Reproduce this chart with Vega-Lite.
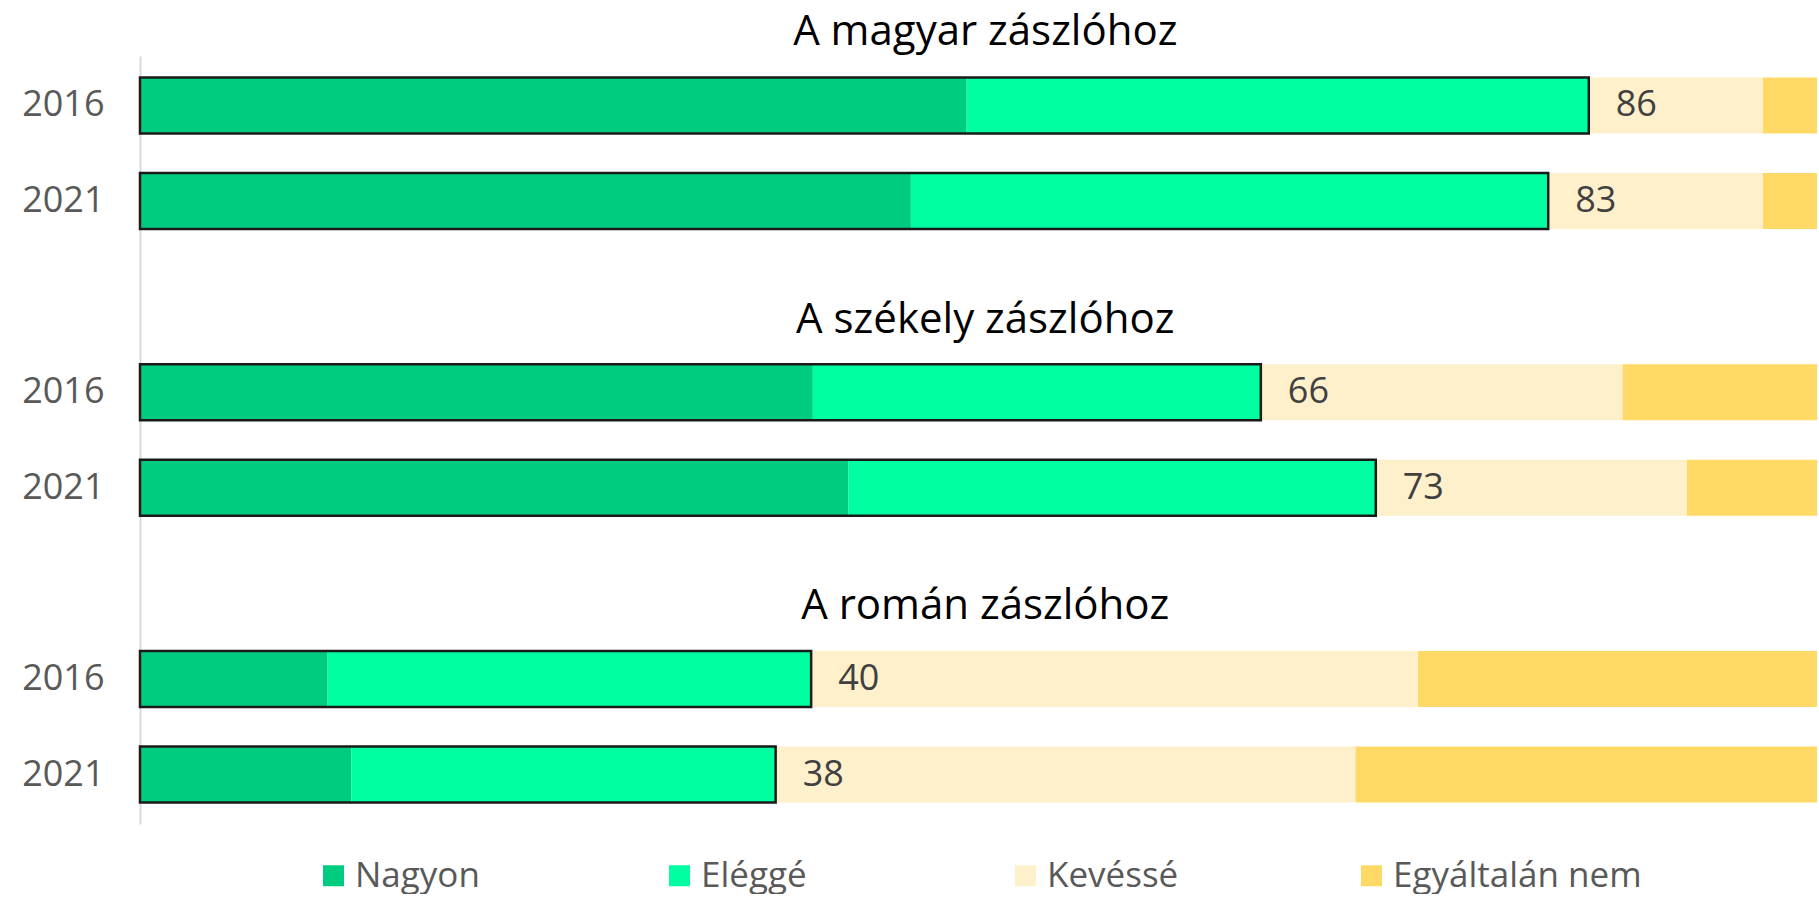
{
  "$schema": "https://vega.github.io/schema/vega-lite/v6.json",
  "width": 1677,
  "height": 768,
  "padding": {"left": 21, "right": 0, "top": 11, "bottom": 0},
  "autosize": {"type": "pad"},
  "background": "white",
  "config": {
    "view": {"stroke": null},
    "font": "Open Sans",
    "legend": {"layout": {"bottom": {"anchor": "middle"}}}
  },
  "data": {
    "values": [
      {"key": "magyar 2016", "cat": "Nagyon", "rank": 1, "value": 48.9},
      {"key": "magyar 2016", "cat": "Eléggé", "rank": 2, "value": 36.8},
      {"key": "magyar 2016", "cat": "Kevéssé", "rank": 3, "value": 10.3},
      {"key": "magyar 2016", "cat": "Egyáltalán nem", "rank": 4, "value": 4.0},
      {"key": "magyar 2021", "cat": "Nagyon", "rank": 1, "value": 45.6},
      {"key": "magyar 2021", "cat": "Eléggé", "rank": 2, "value": 37.7},
      {"key": "magyar 2021", "cat": "Kevéssé", "rank": 3, "value": 12.7},
      {"key": "magyar 2021", "cat": "Egyáltalán nem", "rank": 4, "value": 4.0},
      {"key": "székely 2016", "cat": "Nagyon", "rank": 1, "value": 39.8},
      {"key": "székely 2016", "cat": "Eléggé", "rank": 2, "value": 26.5},
      {"key": "székely 2016", "cat": "Kevéssé", "rank": 3, "value": 21.4},
      {"key": "székely 2016", "cat": "Egyáltalán nem", "rank": 4, "value": 12.3},
      {"key": "székely 2021", "cat": "Nagyon", "rank": 1, "value": 41.9},
      {"key": "székely 2021", "cat": "Eléggé", "rank": 2, "value": 31.2},
      {"key": "székely 2021", "cat": "Kevéssé", "rank": 3, "value": 18.4},
      {"key": "székely 2021", "cat": "Egyáltalán nem", "rank": 4, "value": 8.5},
      {"key": "román 2016", "cat": "Nagyon", "rank": 1, "value": 11.1},
      {"key": "román 2016", "cat": "Eléggé", "rank": 2, "value": 28.6},
      {"key": "román 2016", "cat": "Kevéssé", "rank": 3, "value": 35.9},
      {"key": "román 2016", "cat": "Egyáltalán nem", "rank": 4, "value": 24.4},
      {"key": "román 2021", "cat": "Nagyon", "rank": 1, "value": 12.5},
      {"key": "román 2021", "cat": "Eléggé", "rank": 2, "value": 25.1},
      {"key": "román 2021", "cat": "Kevéssé", "rank": 3, "value": 34.3},
      {"key": "román 2021", "cat": "Egyáltalán nem", "rank": 4, "value": 28.1}
    ]
  },
  "encoding": {
    "y": {
      "field": "key",
      "type": "nominal",
      "scale": {
        "domain": ["magyar 2016", "magyar 2021", "gap2", "székely 2016", "székely 2021", "gap3", "román 2016", "román 2021"],
        "paddingInner": 0.414,
        "paddingOuter": 0.224
      },
      "axis": {
        "title": null,
        "ticks": false,
        "domain": true,
        "domainColor": "#D9D9D9",
        "domainWidth": 2,
        "labelExpr": "length(datum.value) > 5 ? slice(datum.value, -4) : ''",
        "labelFont": "Open Sans",
        "labelFontSize": 36,
        "labelColor": "#595959",
        "labelPadding": 36,
        "grid": false
      }
    }
  },
  "layer": [
    {
      "mark": {"type": "bar", "clip": true},
      "encoding": {
        "x": {
          "field": "value",
          "type": "quantitative",
          "stack": "zero",
          "scale": {"domain": [0, 99.2], "nice": false, "zero": true},
          "axis": null
        },
        "color": {
          "field": "cat",
          "type": "nominal",
          "scale": {
            "domain": ["Nagyon", "Eléggé", "Kevéssé", "Egyáltalán nem"],
            "range": ["#00CC80", "#00FFA0", "#FFF0CC", "#FFD966"]
          },
          "legend": {
            "orient": "bottom",
            "direction": "horizontal",
            "columns": 4,
            "gridAlign": "all",
            "columnPadding": 58,
            "title": null,
            "symbolType": "square",
            "symbolSize": 441,
            "symbolStrokeWidth": 0,
            "symbolOpacity": 1,
            "labelFont": "Open Sans",
            "labelFontSize": 35,
            "labelColor": "#595959",
            "labelOffset": 4,
            "labelLimit": 500,
            "offset": 34
          }
        },
        "order": {"field": "rank", "type": "quantitative"}
      }
    },
    {
      "transform": [
        {"filter": {"field": "cat", "oneOf": ["Nagyon", "Eléggé"]}},
        {"aggregate": [{"op": "sum", "field": "value", "as": "green"}], "groupby": ["key"]}
      ],
      "mark": {"type": "bar", "fill": "transparent", "stroke": "#1a1a1a", "strokeWidth": 2.5},
      "encoding": {
        "x": {
          "field": "green",
          "type": "quantitative",
          "scale": {"domain": [0, 99.2], "nice": false, "zero": true},
          "axis": null
        }
      }
    },
    {
      "transform": [
        {"filter": {"field": "cat", "oneOf": ["Nagyon", "Eléggé"]}},
        {"aggregate": [{"op": "sum", "field": "value", "as": "green"}], "groupby": ["key"]}
      ],
      "mark": {"type": "text", "align": "left", "baseline": "middle", "dx": 27, "font": "Open Sans", "fontSize": 36, "color": "#404040"},
      "encoding": {
        "x": {
          "field": "green",
          "type": "quantitative",
          "scale": {"domain": [0, 99.2], "nice": false, "zero": true},
          "axis": null
        },
        "text": {"field": "green", "type": "quantitative", "format": ".0f"}
      }
    },
    {
      "data": {"values": [
        {"key": "gap2", "title": "A székely zászlóhoz"},
        {"key": "gap3", "title": "A román zászlóhoz"}
      ]},
      "mark": {"type": "text", "align": "center", "baseline": "middle", "dy": 23, "font": "Open Sans", "fontSize": 42, "color": "#000000"},
      "encoding": {
        "x": {"datum": 50, "type": "quantitative", "scale": {"domain": [0, 99.2], "nice": false, "zero": true}, "axis": null},
        "text": {"field": "title", "type": "nominal"}
      }
    },
    {
      "data": {"values": [
        {"key": "magyar 2016", "title": "A magyar zászlóhoz"}
      ]},
      "mark": {"type": "text", "align": "center", "baseline": "middle", "dy": -73, "font": "Open Sans", "fontSize": 42, "color": "#000000"},
      "encoding": {
        "x": {"datum": 50, "type": "quantitative", "scale": {"domain": [0, 99.2], "nice": false, "zero": true}, "axis": null},
        "text": {"field": "title", "type": "nominal"}
      }
    }
  ]
}
